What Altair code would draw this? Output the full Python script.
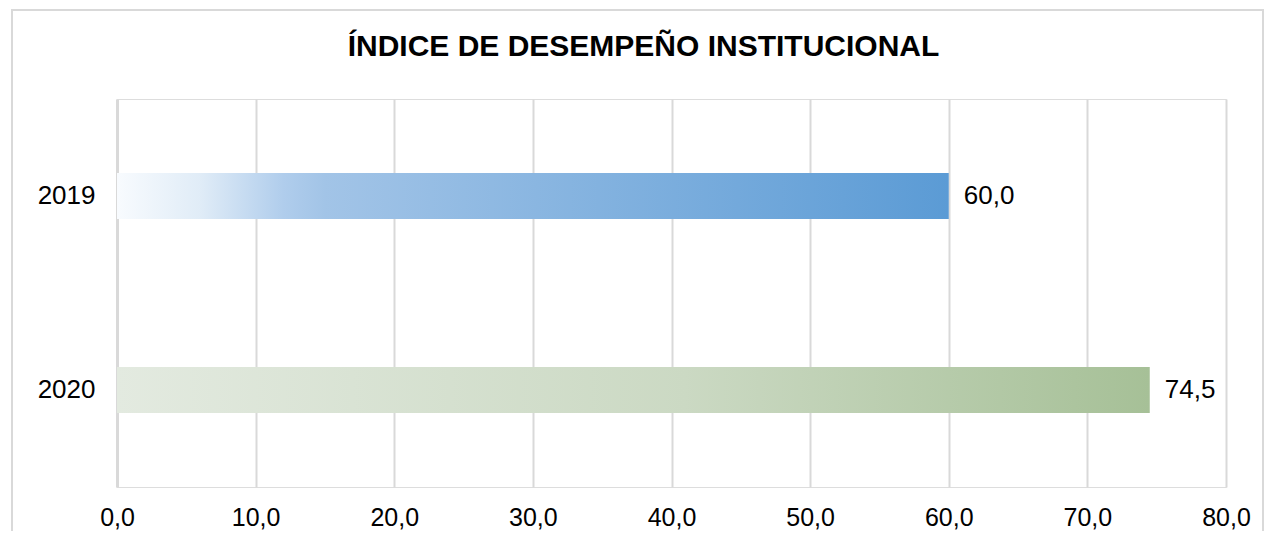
import altair as alt
import pandas as pd

years = ["2019", "2020"]
values = [60.0, 74.5]
x_ticks = [0, 10, 20, 30, 40, 50, 60, 70, 80]
title_text = "ÍNDICE DE DESEMPEÑO INSTITUCIONAL"

df = pd.DataFrame({"year": years, "value": values})
frame_df = pd.DataFrame({"k": [0]})

FONT = "Liberation Sans"
W, H = 1109, 388
GRID = "#D9D9D9"

y_enc = alt.Y(
    "year:N", sort=years,
    scale=alt.Scale(paddingInner=0.763, paddingOuter=0.3815),
    axis=alt.Axis(title=None, domain=True, domainColor=GRID, domainWidth=3,
                  ticks=False, grid=False, labelFont=FONT, labelFontSize=26,
                  labelColor="#000000", labelPadding=22),
)
x_enc = alt.X(
    "value:Q", scale=alt.Scale(domain=[0, 80], nice=False, zero=True),
    axis=alt.Axis(title=None, values=x_ticks,
                  labelExpr="replace(format(datum.value, '.1f'), '.', ',')",
                  labelFlush=False, labelOverlap=False,
                  domain=False, ticks=False, grid=True, gridColor=GRID,
                  gridWidth=2, labelFont=FONT, labelFontSize=25,
                  labelColor="#000000", labelPadding=18),
)

blue = alt.Gradient(
    gradient="linear", x1=0, x2=1, y1=0, y2=0,
    stops=[alt.GradientStop(color="#F8FBFE", offset=0),
           alt.GradientStop(color="#E0ECF7", offset=0.1),
           alt.GradientStop(color="#B0CDEC", offset=0.2),
           alt.GradientStop(color="#A2C4E7", offset=0.25),
           alt.GradientStop(color="#5B9BD5", offset=1)],
)
green = alt.Gradient(
    gradient="linear", x1=0, x2=1, y1=0, y2=0,
    stops=[alt.GradientStop(color="#E3EAE0", offset=0),
           alt.GradientStop(color="#CBD9C3", offset=0.55),
           alt.GradientStop(color="#A6C097", offset=1)],
)

base = alt.Chart(df).encode(x=x_enc, y=y_enc)

bar19 = base.transform_filter(alt.datum.year == "2019").mark_bar(color=blue)
bar20 = base.transform_filter(alt.datum.year == "2020").mark_bar(color=green)

labels = base.transform_calculate(
    label="replace(format(datum.value, '.1f'), '.', ',')"
).mark_text(align="left", baseline="middle", dx=15, font=FONT,
            fontSize=26, color="#000000").encode(text="label:N")

border = alt.Chart(frame_df).mark_rect(
    fillOpacity=0, stroke=GRID, strokeWidth=2
).encode(x=alt.value(-105), x2=alt.value(1146), y=alt.value(-89), y2=alt.value(480))

chart = alt.layer(border, bar19, bar20, labels).properties(
    width=W, height=H,
    title=alt.TitleParams(title_text, font=FONT, fontSize=30, fontWeight="bold",
                          color="#000000", anchor="middle", frame="group",
                          baseline="alphabetic", dx=-28, offset=-77),
    autosize=alt.AutoSizeParams(type="none"),
    padding={"left": 109, "top": 91, "right": 39, "bottom": 44},
).configure_view(strokeWidth=0).configure(background="white")

chart.save("out.html", embed_options={"renderer": "svg", "actions": False})
